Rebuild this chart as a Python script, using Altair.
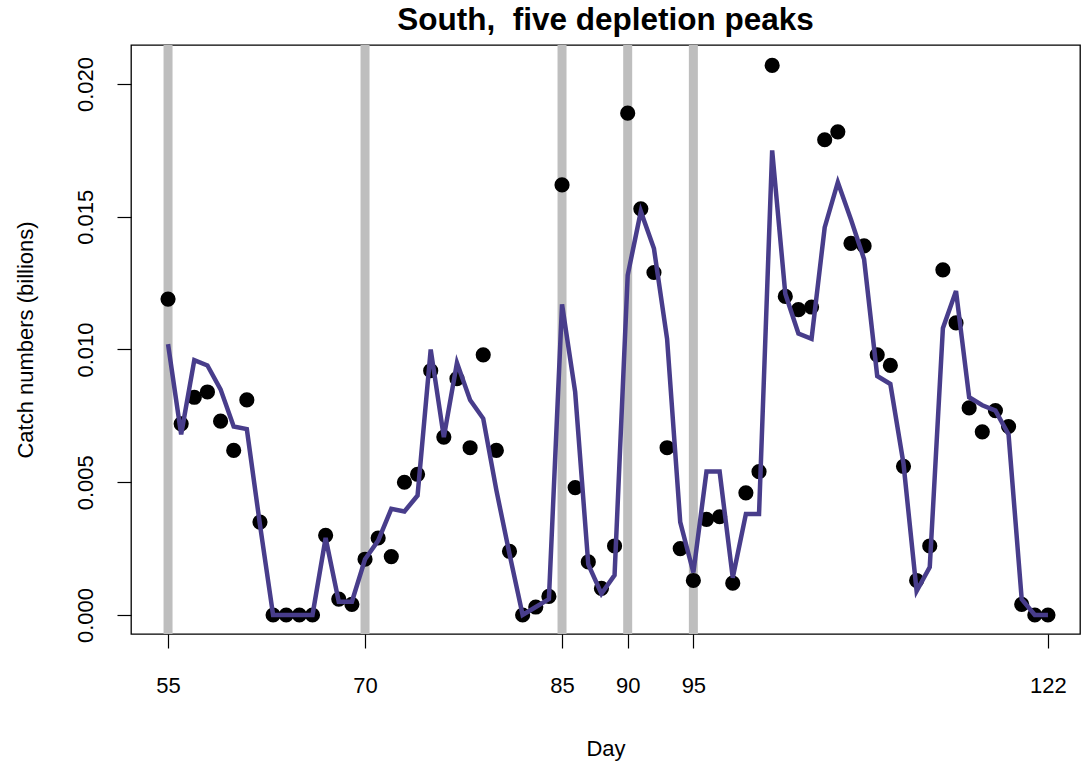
import altair as alt
import pandas as pd

days = list(range(55, 123))
catch = [0.0119, 0.0072, 0.0082, 0.0084, 0.0073, 0.0062, 0.0081, 0.0035, 0.0, 0.0,
         0.0, 0.0, 0.0030, 0.0006, 0.0004, 0.0021, 0.0029, 0.0022, 0.0050, 0.0053,
         0.0092, 0.0067, 0.0089, 0.0063, 0.0098, 0.0062, 0.0024, 0.0000, 0.0003, 0.0007,
         0.0162, 0.0048, 0.0020, 0.0010, 0.0026, 0.0189, 0.0153, 0.0129, 0.0063, 0.0025,
         0.0013, 0.0036, 0.0037, 0.0012, 0.0046, 0.0054, 0.0207, 0.0120, 0.0115, 0.0116,
         0.0179, 0.0182, 0.0140, 0.0139, 0.0098, 0.0094, 0.0056, 0.0013, 0.0026, 0.0130,
         0.0110, 0.0078, 0.0069, 0.0077, 0.0071, 0.0004, 0.0000, 0.0000]
fitted = [0.0102, 0.0068, 0.0096, 0.0094, 0.0085, 0.0071, 0.0070, 0.0034, 0.0, 0.0,
          0.0, 0.0, 0.0029, 0.0005, 0.0005, 0.0021, 0.0028, 0.0040, 0.0039, 0.0045,
          0.0100, 0.0067, 0.0095, 0.0081, 0.0074, 0.0047, 0.0023, 0.0000, 0.0003, 0.0006,
          0.0117, 0.0084, 0.0019, 0.0008, 0.0015, 0.0128, 0.0152, 0.0138, 0.0104, 0.0035,
          0.0016, 0.0054, 0.0054, 0.0014, 0.0038, 0.0038, 0.0175, 0.0121, 0.0106, 0.0104,
          0.0146, 0.0163, 0.0149, 0.0134, 0.0090, 0.0087, 0.0057, 0.0009, 0.0018, 0.0108,
          0.0122, 0.0082, 0.0079, 0.0077, 0.0068, 0.0006, 0.0000, 0.0000]
peak_days = [55, 70, 85, 90, 95]
x_ticks = [55, 70, 85, 90, 95, 122]
y_ticks = [0.000, 0.005, 0.010, 0.015, 0.020]

df = pd.DataFrame({"day": days, "catch": catch, "fitted": fitted})
peaks = pd.DataFrame({"day": peak_days})

FONT = "Liberation Sans"
xscale = alt.Scale(domain=[52.18, 124.44], nice=False, zero=False)
yscale = alt.Scale(domain=[-0.000716, 0.021469], nice=False, zero=False)

xaxis = alt.Axis(values=x_ticks, title="Day", grid=False, domain=False,
                 tickSize=14, tickColor="black", tickWidth=1.2, labelFontSize=22,
                 labelFont=FONT, labelColor="black", labelPadding=27,
                 titleFontSize=22, titleFont=FONT, titleFontWeight="normal",
                 titleColor="black", titleY=114, titleBaseline="middle",
                 labelFlush=False)
yaxis = alt.Axis(values=y_ticks, format=".3f", title="Catch numbers (billions)",
                 grid=False, domain=False, tickSize=14, tickColor="black",
                 tickWidth=1.2, labelFontSize=22, labelFont=FONT, labelColor="black",
                 labelAngle=-90, labelAlign="center", labelBaseline="bottom",
                 labelPadding=20, titleFontSize=22, titleFont=FONT,
                 titleFontWeight="normal", titleColor="black", titleX=-106,
                 titleBaseline="middle", labelFlush=False)

rules = alt.Chart(peaks).mark_rule(color="#BEBEBE", strokeWidth=9).encode(
    x=alt.X("day:Q", scale=xscale, axis=xaxis)
)
points = alt.Chart(df).mark_circle(color="black", size=230, opacity=1).encode(
    x=alt.X("day:Q", scale=xscale, axis=xaxis),
    y=alt.Y("catch:Q", scale=yscale, axis=yaxis),
)
line = alt.Chart(df).mark_line(color="#483D8B", strokeWidth=4.5).encode(
    x=alt.X("day:Q", scale=xscale, axis=xaxis),
    y=alt.Y("fitted:Q", scale=yscale, axis=yaxis),
)

chart = alt.layer(rules, points, line).properties(
    width=949, height=589,
    background="white",
    padding={"left": 131, "top": 45, "right": 2, "bottom": 135},
    autosize=alt.AutoSizeParams(type="none"),
    title=alt.TitleParams("South,\u00a0 five depletion peaks", font=FONT,
                          fontSize=31.5, fontWeight="bold", color="black",
                          anchor="middle", frame="group", baseline="alphabetic",
                          offset=12, dy=33),
).configure_view(stroke="black", strokeWidth=1.3)

chart.save("out.html", embed_options={"renderer": "svg", "actions": False})
